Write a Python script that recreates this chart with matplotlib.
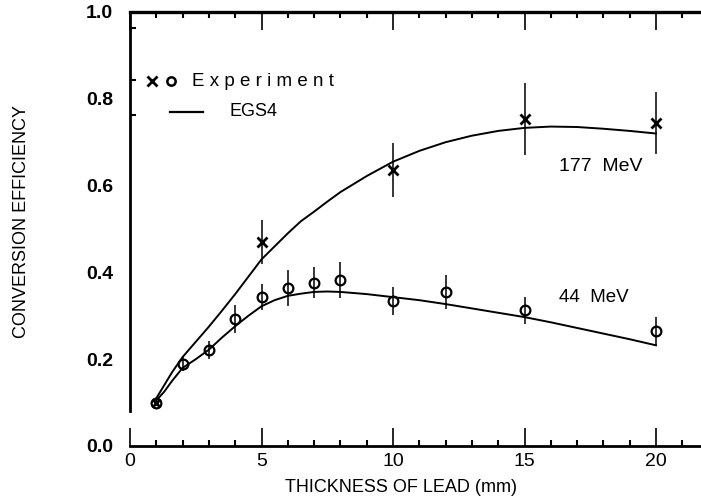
import matplotlib
matplotlib.use("Agg")
import matplotlib.pyplot as plt
from matplotlib.ticker import FixedLocator, MultipleLocator

plt.rcParams['font.family'] = ['Liberation Sans', 'DejaVu Sans']

# ---- data ----
# measured points, 177 MeV (x markers)
x177 = [5, 10, 15, 20]
y177 = [0.47, 0.636, 0.753, 0.744]
e177 = [0.05, 0.063, 0.083, 0.071]

# measured points, 44 MeV (circles)
x44 = [1, 2, 3, 4, 5, 6, 7, 8, 10, 12, 15, 20]
y44 = [0.099, 0.189, 0.221, 0.293, 0.343, 0.364, 0.376, 0.382, 0.334, 0.355, 0.313, 0.265]
e44 = [0.0, 0.017, 0.02, 0.032, 0.03, 0.041, 0.036, 0.041, 0.033, 0.04, 0.031, 0.032]

# EGS4 curves
xc177 = [1, 1.3, 1.6, 2, 2.5, 3, 3.5, 4, 4.5, 5, 5.5, 6, 6.5, 7, 7.5, 8, 9, 10,
         11, 12, 13, 14, 15, 16, 17, 18, 19, 20]
yc177 = [0.11, 0.14, 0.17, 0.205, 0.24, 0.275, 0.312, 0.35, 0.39, 0.43, 0.46, 0.49,
         0.518, 0.54, 0.563, 0.585, 0.622, 0.655, 0.68, 0.70, 0.715, 0.726, 0.733,
         0.736, 0.735, 0.731, 0.726, 0.72]
xc44 = [1, 1.3, 1.6, 2, 2.5, 3, 3.5, 4, 4.5, 5, 5.5, 6, 6.5, 7, 7.5, 8, 9, 10,
        11, 12, 13, 14, 15, 16, 17, 18, 19, 20]
yc44 = [0.105, 0.125, 0.15, 0.18, 0.2, 0.222, 0.25, 0.276, 0.30, 0.322, 0.336, 0.346,
        0.351, 0.355, 0.356, 0.355, 0.35, 0.343, 0.336, 0.327, 0.317, 0.307, 0.297,
        0.285, 0.272, 0.259, 0.246, 0.232]

xticks = [0, 5, 10, 15, 20]
yticks = [0.0, 0.2, 0.4, 0.6, 0.8, 1.0]
ytick_labels = ['0.0', '0.2', '0.4', '0.6', '0.8', '1.0']

fig = plt.figure(figsize=(7.01, 4.97), dpi=100)
ax = fig.add_axes([130 / 701, 51 / 497, 571 / 701, 434 / 497])

ax.plot(xc177, yc177, color='black', lw=1.4)
ax.plot(xc44, yc44, color='black', lw=1.4)

ax.errorbar(x177, y177, yerr=e177, fmt='x', color='black', ms=7, mew=2.0,
            elinewidth=1.1, capsize=0)
ax.errorbar(x44, y44, yerr=e44, fmt='o', color='black', mfc='none', ms=7,
            mew=1.6, elinewidth=1.1, capsize=0)
ax.plot([1], [0.1], 'x', color='black', ms=6, mew=2.0)

ax.text(16.3, 0.643, '177  MeV', fontsize=14, ha='left', va='center')
ax.text(16.3, 0.343, '44  MeV', fontsize=13.5, ha='left', va='center')

# legend drawn by hand
ax.plot([0.0385], [0.841], 'x', color='black', ms=7, mew=2.0, transform=ax.transAxes)
ax.plot([0.0718], [0.841], 'o', color='black', mfc='none', ms=6, mew=1.8,
        transform=ax.transAxes)
ax.text(0.1086, 0.841, 'E x p e r i m e n t', fontsize=13.5, ha='left', va='center',
        transform=ax.transAxes)
ax.plot([0.070, 0.128], [0.770, 0.770], color='black', lw=1.6, transform=ax.transAxes)
ax.text(0.175, 0.770, 'EGS4', fontsize=13, ha='left', va='center', transform=ax.transAxes)

ax.set_xlim(0, 571 / 26.3)
ax.set_ylim(0, 1.0)

ax.spines['right'].set_visible(False)
ax.spines['top'].set_linewidth(2.4)
ax.spines['bottom'].set_linewidth(2.0)
ax.spines['left'].set_linewidth(2.0)
ax.spines['left'].set_bounds(0.08, 1.0)

ax.xaxis.set_ticks_position('both')
ax.set_xticks(xticks)
ax.xaxis.set_minor_locator(MultipleLocator(1))
ax.tick_params(axis='x', which='major', direction='in', length=13, width=1.2,
               labelsize=14, pad=5)
ax.tick_params(axis='x', which='minor', direction='in', length=4, width=1.5)

ax.set_yticks(yticks)
ax.set_yticklabels(ytick_labels)
ax.yaxis.set_minor_locator(FixedLocator([0.963, 0.843, 0.763]))
ax.tick_params(axis='y', which='major', length=0, labelsize=14, pad=12)
ax.tick_params(axis='y', which='minor', direction='in', length=4, width=1.5)
for lab in ax.get_yticklabels():
    lab.set_fontweight('bold')

ax.set_xlabel('THICKNESS OF LEAD (mm)', fontsize=13, labelpad=2)
ax.xaxis.set_label_coords(0.475, -0.075)

fig.text(22 / 701, 1 - 222 / 497, 'CONVERSION EFFICIENCY', rotation=90,
         fontsize=13, ha='center', va='center')

fig.savefig('out.png', dpi=100)
